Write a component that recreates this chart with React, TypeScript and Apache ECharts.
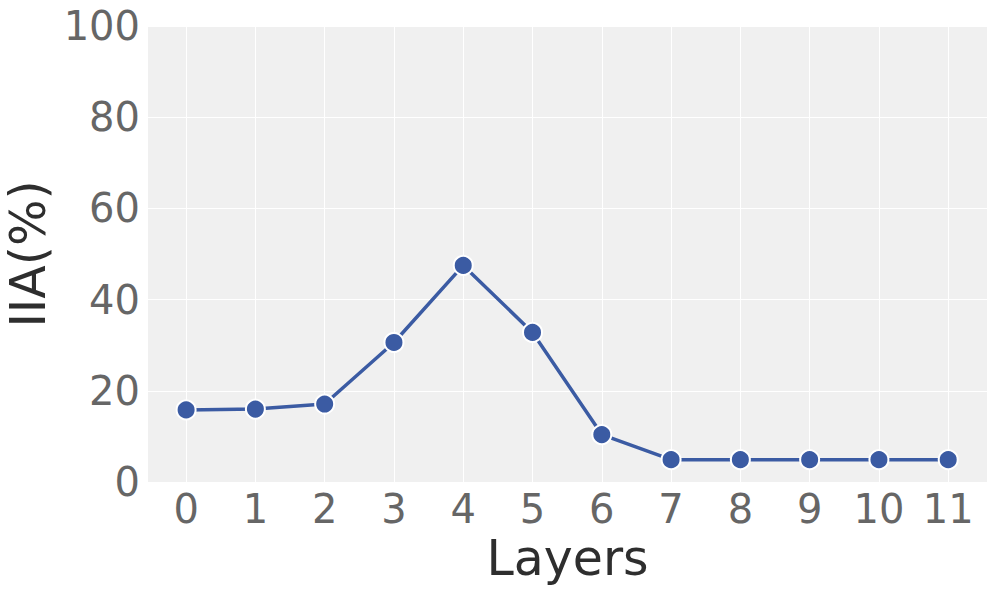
import React, { useEffect, useRef } from "react";
import * as echarts from "echarts";

const layers = [0, 1, 2, 3, 4, 5, 6, 7, 8, 9, 10, 11];
const iia = [15.8, 16.0, 17.1, 30.6, 47.5, 32.8, 10.4, 4.9, 4.9, 4.9, 4.9, 4.9];
const yTicks = [0, 20, 40, 60, 80, 100];

const FONT = "DejaVu Sans";

export default function App() {
  const ref = useRef<HTMLDivElement>(null);
  useEffect(() => {
    if (!ref.current) return;
    const chart = echarts.init(ref.current, undefined, { renderer: "svg" });
    chart.setOption({
      animation: false,
      grid: {
        left: 148,
        right: 10,
        top: 26,
        bottom: 109,
        show: true,
        backgroundColor: "#f0f0f0",
        borderWidth: 0,
        containLabel: false,
        outerBoundsMode: "none",
      },
      xAxis: {
        type: "value",
        min: -0.55,
        max: 11.56,
        name: "Layers",
        nameLocation: "middle",
        nameGap: 40,
        nameTextStyle: { fontFamily: FONT, fontSize: 49, color: "#2e2e2e" },
        axisLine: { show: false },
        axisTick: { show: false, customValues: layers },
        axisLabel: {
          customValues: layers,
          fontFamily: FONT,
          fontSize: 40,
          color: "#666666",
          margin: 7,
        },
        splitLine: { show: true, lineStyle: { color: "#ffffff", width: 1 } },
      },
      yAxis: {
        type: "value",
        min: yTicks[0],
        max: yTicks[yTicks.length - 1],
        interval: 20,
        name: "IIA(%)",
        nameLocation: "middle",
        nameRotate: 90,
        nameGap: 95,
        nameTextStyle: { fontFamily: FONT, fontSize: 49, color: "#2e2e2e", lineHeight: 49 },
        axisLine: { show: false },
        axisTick: { show: false },
        axisLabel: {
          fontFamily: FONT,
          fontSize: 40,
          color: "#666666",
          margin: 8,
        },
        splitLine: { show: true, lineStyle: { color: "#ffffff", width: 1 } },
      },
      series: [
        {
          type: "line",
          data: layers.map((l, i) => [l, iia[i]]),
          symbol: "circle",
          symbolSize: 19,
          color: "#3b5ba3",
          lineStyle: { color: "#3b5ba3", width: 3.5 },
          itemStyle: { color: "#3b5ba3", borderColor: "#ffffff", borderWidth: 2 },
          z: 3,
        },
      ],
    });
    return () => chart.dispose();
  }, []);
  return <div ref={ref} style={{ width: 997, height: 591, position: "absolute", left: 0, top: 0 }} />;
}
